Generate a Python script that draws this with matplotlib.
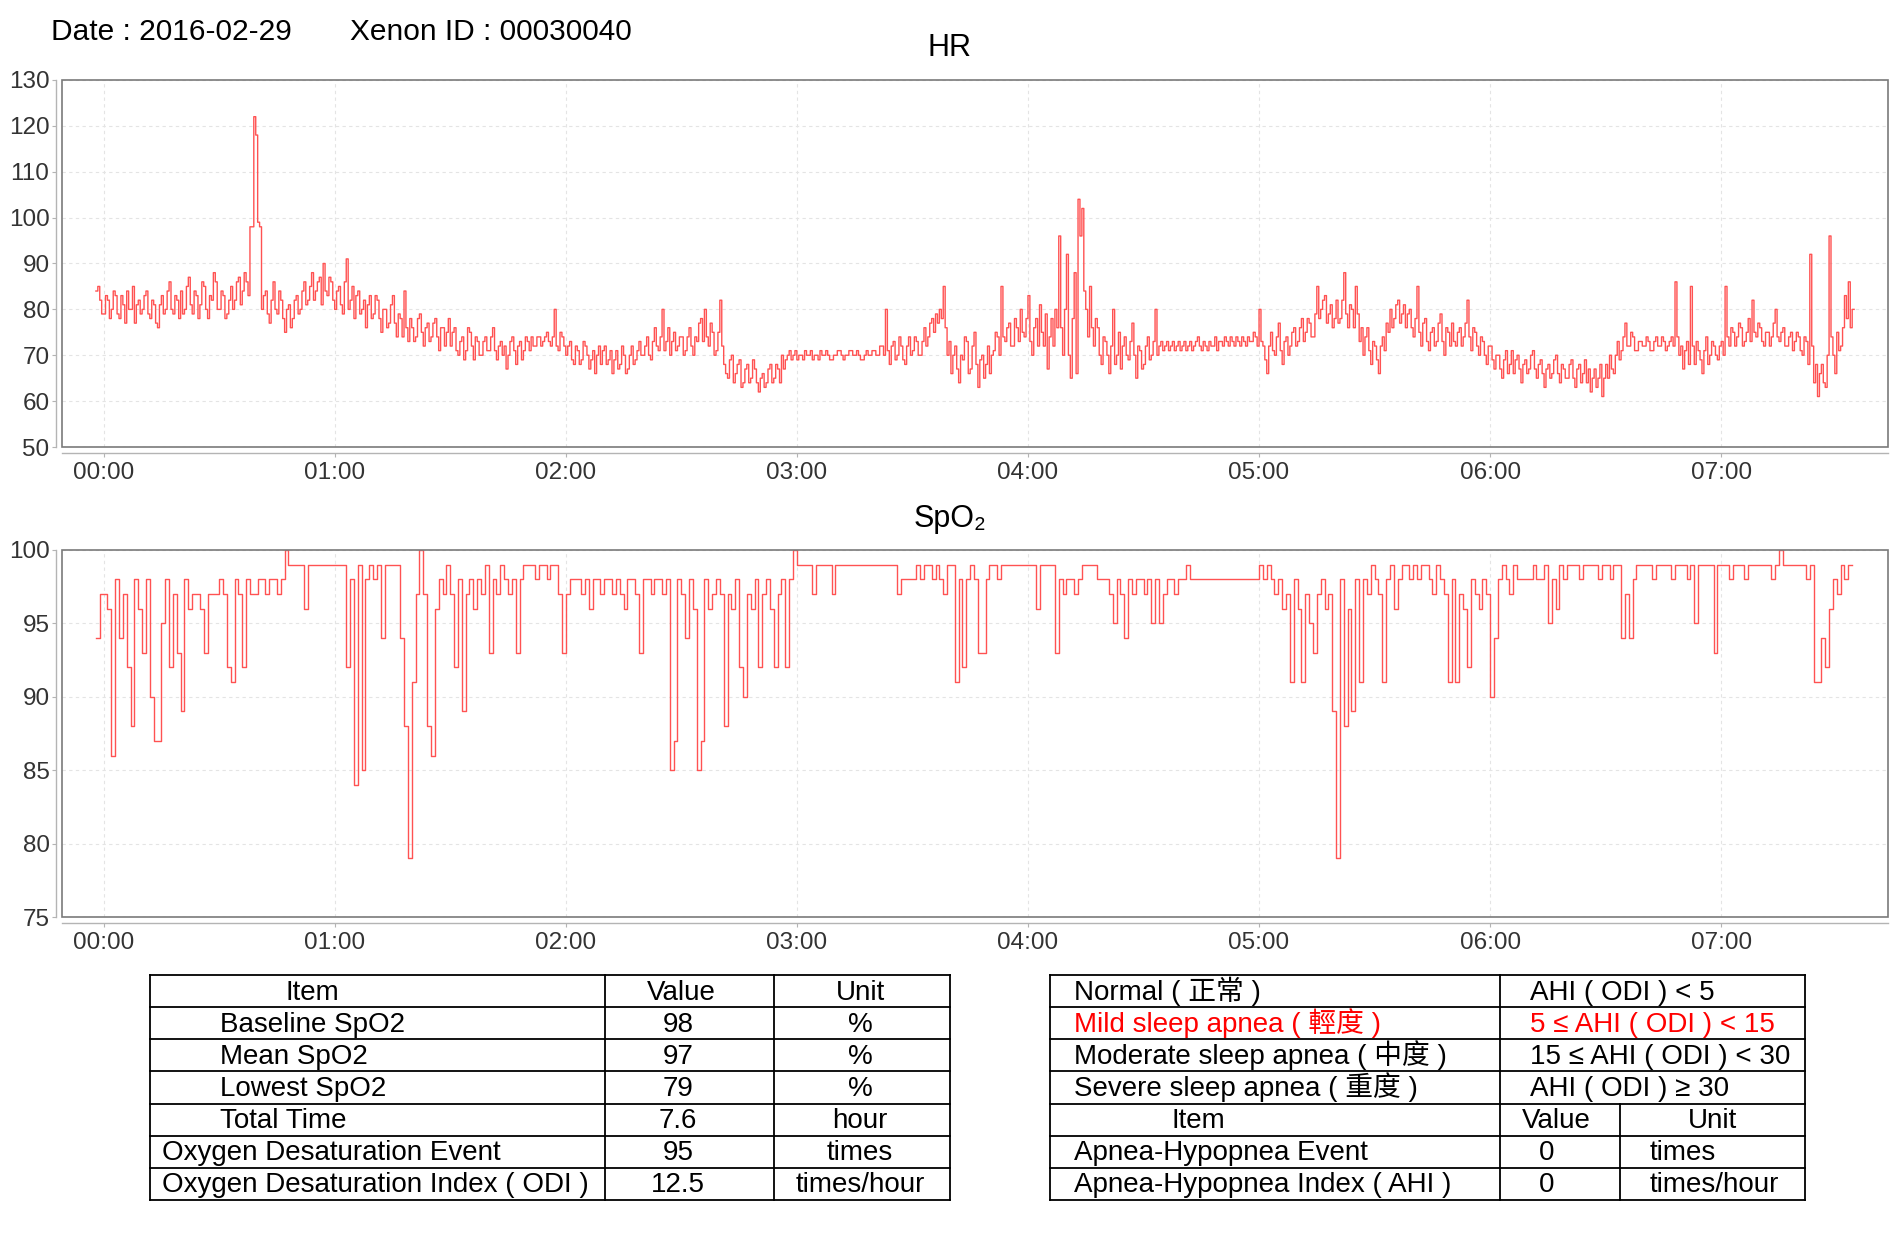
import numpy as np
import matplotlib
matplotlib.use("Agg")
import matplotlib.pyplot as plt
from matplotlib.patches import Rectangle

plt.rcParams['font.family'] = ['Liberation Sans', 'Noto Sans CJK TC', 'DejaVu Sans']

# ---- data ----
report_date = "2016-02-29"
xenon_id = "00030040"

start_minute = -2   # first sample (minutes after 00:00)

# heart rate at the start of each minute
hr = [
    84, 82,
    79, 82, 80, 83, 78, 81, 84, 80, 77, 82,   # 00:00
    80, 84, 78, 81, 76, 83, 80, 86, 79, 82,   # 00:10
    84, 80, 87, 79, 83, 81, 85, 78, 82, 86,   # 00:20
    80, 83, 79, 85, 82, 87, 84, 86, 98, 122,  # 00:30
    99, 80, 84, 77, 86, 79, 82, 75, 81, 78,   # 00:40
    83, 80, 86, 82, 88, 84, 87, 90, 83, 86,   # 00:50
    80, 85, 79, 91, 82, 78, 84, 80, 76, 83,   # 01:00
    79, 82, 75, 80, 77, 83, 74, 78, 84, 73,   # 01:10
    76, 74, 79, 72, 77, 74, 78, 71, 76, 75,   # 01:20
    72, 76, 70, 74, 71, 75, 69, 73, 70, 74,   # 01:30
    71, 76, 69, 73, 72, 70, 74, 68, 73, 71,   # 01:40
    73, 74, 72, 74, 73, 75, 72, 80, 71, 74,   # 01:50
    70, 73, 68, 71, 69, 72, 67, 71, 70, 68,   # 02:00
    72, 69, 66, 71, 68, 70, 67, 72, 69, 73,   # 02:10
    70, 74, 69, 76, 71, 80, 73, 70, 75, 72,   # 02:20
    74, 71, 76, 70, 73, 78, 80, 72, 75, 71,   # 02:30
    82, 68, 65, 70, 66, 69, 64, 68, 65, 67,   # 02:40
    62, 66, 64, 68, 65, 67, 70, 69, 71, 70,   # 02:50
    69, 70, 71, 70, 69, 70, 71, 70, 70, 69,   # 03:00
    70, 71, 69, 70, 71, 70, 70, 69, 71, 70,   # 03:10
    71, 70, 72, 80, 68, 73, 70, 72, 68, 74,   # 03:20
    71, 73, 70, 76, 74, 78, 79, 80, 85, 70,   # 03:30
    66, 72, 64, 69, 73, 67, 75, 63, 70, 68,   # 03:40
    66, 71, 74, 85, 73, 77, 72, 76, 80, 74,   # 03:50
    83, 70, 78, 81, 72, 67, 78, 80, 96, 70,   # 04:00
    92, 65, 88, 104, 102, 80, 85, 72, 76, 68, # 04:10
    73, 66, 80, 70, 67, 74, 69, 77, 65, 71,   # 04:20
    68, 74, 70, 80, 72, 71, 73, 72, 71, 73,   # 04:30
    72, 71, 73, 72, 74, 71, 72, 73, 72, 71,   # 04:40
    73, 74, 72, 73, 74, 72, 73, 74, 73, 74,   # 04:50
    80, 72, 66, 75, 70, 77, 68, 74, 72, 76,   # 05:00
    73, 78, 75, 77, 74, 85, 80, 83, 79, 76,   # 05:10
    82, 78, 88, 76, 80, 85, 73, 70, 76, 68,   # 05:20
    72, 66, 74, 77, 80, 78, 82, 79, 76, 80,   # 05:30
    74, 85, 72, 78, 71, 76, 73, 79, 70, 75,   # 05:40
    77, 72, 76, 74, 82, 71, 75, 70, 73, 68,   # 05:50
    72, 67, 70, 65, 71, 68, 66, 70, 64, 69,   # 06:00
    67, 71, 65, 69, 63, 68, 66, 70, 64, 67,   # 06:10
    65, 69, 63, 68, 66, 64, 62, 67, 65, 61,   # 06:20
    68, 70, 66, 73, 71, 77, 72, 74, 71, 73,   # 06:30
    72, 73, 71, 74, 72, 73, 72, 74, 86, 70,   # 06:40
    67, 73, 85, 68, 71, 66, 74, 70, 72, 69,   # 06:50
    73, 85, 72, 75, 74, 76, 73, 78, 82, 74,   # 07:00
    76, 72, 75, 74, 80, 73, 76, 72, 75, 73,   # 07:10
    74, 70, 73, 92, 64, 61, 68, 63, 96, 70,   # 07:20
    75, 72, 83, 86, 80,                       # 07:30
]

# heart rate 30 s into each minute
hr_half = [
    85, 79,
    83, 78, 84, 79, 83, 77, 80, 85, 81, 79,   # 00:00
    83, 79, 82, 77, 81, 79, 84, 80, 83, 78,   # 00:10
    79, 85, 81, 84, 78, 86, 80, 83, 88, 80,   # 00:20
    84, 78, 82, 80, 86, 81, 88, 83, 98, 118,  # 00:30
    98, 83, 79, 82, 80, 84, 78, 80, 76, 82,   # 00:40
    79, 84, 81, 85, 82, 86, 81, 84, 87, 82,   # 00:50
    84, 81, 86, 80, 85, 83, 79, 82, 81, 78,   # 01:00
    83, 78, 80, 76, 81, 77, 79, 74, 76, 78,   # 01:10
    73, 78, 75, 76, 73, 77, 74, 76, 72, 78,   # 01:20
    75, 71, 73, 69, 76, 72, 74, 70, 73, 71,   # 01:30
    74, 71, 72, 70, 67, 73, 71, 72, 69, 74,   # 01:40
    71, 72, 74, 72, 74, 73, 74, 72, 75, 72,   # 01:50
    72, 69, 72, 68, 73, 70, 69, 66, 72, 71,   # 02:00
    68, 71, 69, 67, 72, 66, 70, 68, 71, 70,   # 02:10
    72, 70, 73, 72, 74, 71, 76, 73, 71, 74,   # 02:20
    70, 74, 72, 74, 77, 73, 74, 77, 70, 75,   # 02:30
    72, 66, 69, 64, 68, 63, 67, 64, 69, 64,   # 02:40
    65, 63, 67, 64, 68, 64, 67, 70, 69, 71,   # 02:50
    70, 69, 70, 71, 70, 69, 70, 71, 69, 70,   # 03:00
    71, 70, 70, 71, 70, 71, 69, 70, 70, 71,   # 03:10
    70, 72, 70, 71, 72, 69, 74, 69, 72, 70,   # 03:20
    74, 70, 73, 72, 77, 75, 77, 78, 76, 73,   # 03:30
    70, 67, 70, 74, 66, 72, 68, 69, 65, 72,   # 03:40
    70, 75, 70, 74, 76, 72, 78, 73, 75, 78,   # 03:50
    73, 76, 72, 75, 79, 74, 72, 76, 76, 80,   # 04:00
    70, 78, 66, 96, 84, 74, 76, 78, 70, 74,   # 04:10
    70, 72, 68, 75, 72, 70, 73, 70, 72, 67,   # 04:20
    72, 69, 73, 70, 73, 72, 71, 73, 72, 71,   # 04:30
    73, 72, 71, 73, 72, 73, 71, 72, 74, 73,   # 04:40
    72, 73, 74, 72, 73, 74, 72, 73, 75, 72,   # 04:50
    73, 69, 72, 71, 74, 71, 73, 70, 75, 72,   # 05:00
    76, 73, 78, 74, 79, 78, 82, 77, 81, 78,   # 05:10
    77, 82, 79, 81, 76, 79, 76, 74, 71, 73,   # 05:20
    69, 72, 71, 75, 76, 81, 77, 81, 79, 76,   # 05:30
    78, 75, 77, 73, 75, 72, 77, 73, 76, 72,   # 05:40
    73, 75, 72, 77, 74, 76, 72, 74, 70, 72,   # 05:50
    69, 70, 67, 69, 66, 71, 69, 67, 68, 66,   # 06:00
    70, 67, 68, 66, 67, 65, 69, 66, 68, 65,   # 06:10
    68, 65, 67, 64, 69, 67, 65, 63, 68, 65,   # 06:20
    65, 67, 70, 69, 74, 72, 75, 71, 73, 72,   # 06:30
    74, 71, 73, 72, 74, 71, 73, 72, 74, 72,   # 06:40
    71, 68, 72, 73, 69, 71, 68, 73, 70, 72,   # 06:50
    70, 74, 76, 72, 77, 72, 75, 73, 75, 77,   # 07:00
    73, 75, 72, 77, 74, 75, 72, 74, 71, 75,   # 07:10
    71, 74, 68, 72, 68, 66, 64, 70, 74, 66,   # 07:20
    71, 76, 78, 76, 80,                       # 07:30
]

# SpO2, one sample per minute
spo2 = [
    94, 97,
    97, 96, 86, 98, 94, 97, 92, 88, 98, 96,   # 00:00
    93, 98, 90, 87, 87, 95, 98, 92, 97, 93,   # 00:10
    89, 98, 96, 97, 97, 96, 93, 97, 97, 97,   # 00:20
    98, 97, 92, 91, 98, 97, 92, 98, 97, 97,   # 00:30
    98, 98, 97, 98, 98, 97, 98, 100, 99, 99,  # 00:40
    99, 99, 96, 99, 99, 99, 99, 99, 99, 99,   # 00:50
    99, 99, 99, 92, 98, 84, 99, 85, 98, 99,   # 01:00
    98, 99, 94, 99, 99, 99, 99, 94, 88, 79,   # 01:10
    91, 97, 100, 97, 88, 86, 96, 98, 97, 99,  # 01:20
    97, 92, 98, 89, 97, 98, 96, 98, 97, 99,   # 01:30
    93, 98, 97, 99, 98, 97, 98, 93, 98, 99,   # 01:40
    99, 99, 98, 99, 99, 98, 99, 99, 97, 93,   # 01:50
    97, 98, 98, 98, 97, 98, 96, 98, 98, 97,   # 02:00
    98, 98, 97, 98, 97, 96, 98, 98, 97, 93,   # 02:10
    98, 98, 97, 98, 98, 97, 98, 85, 87, 98,   # 02:20
    97, 94, 98, 96, 85, 87, 98, 96, 97, 98,   # 02:30
    97, 88, 97, 96, 98, 92, 90, 97, 96, 98,   # 02:40
    92, 97, 98, 96, 92, 97, 98, 92, 98, 100,  # 02:50
    99, 99, 99, 99, 97, 99, 99, 99, 99, 97,   # 03:00
    99, 99, 99, 99, 99, 99, 99, 99, 99, 99,   # 03:10
    99, 99, 99, 99, 99, 99, 97, 98, 98, 98,   # 03:20
    98, 99, 98, 99, 99, 98, 99, 98, 97, 99,   # 03:30
    99, 91, 98, 92, 98, 99, 98, 93, 93, 98,   # 03:40
    99, 99, 98, 99, 99, 99, 99, 99, 99, 99,   # 03:50
    99, 99, 96, 99, 99, 99, 99, 93, 98, 97,   # 04:00
    98, 98, 97, 98, 99, 99, 99, 99, 98, 98,   # 04:10
    98, 97, 95, 98, 97, 94, 98, 97, 98, 98,   # 04:20
    97, 98, 95, 98, 95, 97, 98, 98, 97, 98,   # 04:30
    98, 99, 98, 98, 98, 98, 98, 98, 98, 98,   # 04:40
    98, 98, 98, 98, 98, 98, 98, 98, 98, 98,   # 04:50
    99, 98, 99, 98, 97, 98, 96, 97, 91, 98,   # 05:00
    96, 91, 97, 95, 93, 97, 98, 96, 97, 89,   # 05:10
    79, 98, 88, 96, 89, 98, 91, 98, 97, 99,   # 05:20
    98, 97, 91, 98, 99, 96, 98, 99, 99, 98,   # 05:30
    99, 98, 99, 99, 98, 97, 99, 98, 97, 91,   # 05:40
    98, 91, 97, 96, 92, 98, 97, 96, 98, 97,   # 05:50
    90, 94, 98, 99, 98, 97, 99, 98, 98, 98,   # 06:00
    98, 99, 98, 98, 99, 95, 98, 96, 99, 98,   # 06:10
    99, 99, 99, 98, 99, 99, 99, 99, 98, 99,   # 06:20
    99, 98, 99, 99, 94, 97, 94, 98, 99, 99,   # 06:30
    99, 99, 98, 99, 99, 99, 99, 98, 99, 99,   # 06:40
    99, 98, 99, 95, 99, 99, 99, 99, 93, 99,   # 06:50
    99, 99, 98, 99, 99, 99, 98, 99, 99, 99,   # 07:00
    99, 99, 99, 98, 99, 100, 99, 99, 99, 99,  # 07:10
    99, 99, 98, 99, 91, 91, 94, 92, 96, 98,   # 07:20
    97, 99, 98, 99, 99,                       # 07:30
]

hour_labels = ["00:00", "01:00", "02:00", "03:00", "04:00", "05:00", "06:00", "07:00"]
hr_ticks = [50, 60, 70, 80, 90, 100, 110, 120, 130]
spo2_ticks = [75, 80, 85, 90, 95, 100]

summary_items = ["Baseline SpO2", "Mean SpO2", "Lowest SpO2", "Total Time",
                 "Oxygen Desaturation Event", "Oxygen Desaturation Index ( ODI )"]
summary_values = ["98", "97", "79", "7.6", "95", "12.5"]
summary_units = ["%", "%", "%", "hour", "times", "times/hour"]

severity_labels = ["Normal ( 正常 )", "Mild sleep apnea ( 輕度 )",
                   "Moderate sleep apnea ( 中度 )", "Severe sleep apnea ( 重度 )"]
severity_ranges = ["AHI ( ODI ) < 5", "5 ≤ AHI ( ODI ) < 15",
                   "15 ≤ AHI ( ODI ) < 30", "AHI ( ODI ) ≥ 30"]
severity_highlight = 1   # row shown in red

ahi_items = ["Apnea-Hypopnea Event", "Apnea-Hypopnea Index ( AHI )"]
ahi_values = ["0", "0"]
ahi_units = ["times", "times/hour"]

LINE_RED = '#ff5252'
TICK_SIZE = 17.5
TABLE_SIZE = 20

W, H = 1900, 1250
fig = plt.figure(figsize=(W / 100, H / 100), dpi=100)


def px_rect(x0, y0, x1, y1):
    return [x0 / W, 1 - y1 / H, (x1 - x0) / W, (y1 - y0) / H]


def style_axes(ax, ylim, yticks):
    ax.set_xlim(-10.8, 463.3)
    ax.set_ylim(*ylim)
    ax.set_yticks(yticks)
    ax.set_xticks(np.arange(len(hour_labels)) * 60)
    ax.set_xticklabels(hour_labels)
    ax.grid(True, color='#e4e4e4', linestyle=(0, (3, 3)), linewidth=0.8)
    ax.set_axisbelow(True)
    for s in ['top', 'right']:
        ax.spines[s].set_visible(False)
    for s in ['left', 'bottom']:
        ax.spines[s].set_position(('outward', 4))
        ax.spines[s].set_color('#b4b4b4')
        ax.spines[s].set_linewidth(1.0)
    ax.add_patch(Rectangle((0, 0), 1, 1, transform=ax.transAxes, fill=False,
                           edgecolor='#7a7a7a', linewidth=1.2, clip_on=False, zorder=5))
    ax.tick_params(colors='#b4b4b4', labelcolor='#333333', labelsize=TICK_SIZE,
                   length=3, pad=2)
    ax.tick_params(axis='x', pad=4)


# interleave the two HR readings of each minute into a 30 s series
hr_series = np.column_stack([hr, hr_half]).ravel()
t_hr = start_minute + 0.5 * np.arange(len(hr_series))
t_sp = start_minute + np.arange(len(spo2))

ax1 = fig.add_axes(px_rect(62, 80, 1888, 447))
ax1.plot(t_hr, hr_series, drawstyle='steps-post', color=LINE_RED, linewidth=1.0)
style_axes(ax1, (50, 130), hr_ticks)

ax2 = fig.add_axes(px_rect(62, 550, 1888, 917))
ax2.plot(t_sp, spo2, drawstyle='steps-post', color=LINE_RED, linewidth=1.0)
style_axes(ax2, (75, 100), spo2_ticks)

# overlay in pixel coordinates for header, titles and tables
ov = fig.add_axes([0, 0, 1, 1])
ov.set_xlim(0, W)
ov.set_ylim(H, 0)
ov.axis('off')

ov.text(51, 40, f"Date : {report_date}", fontsize=21.5, va='baseline')
ov.text(350, 40, f"Xenon ID : {xenon_id}", fontsize=21.5, va='baseline')
ov.text(950, 56, "HR", fontsize=22, ha='center', va='baseline')
ov.text(950, 527, "SpO₂", fontsize=22, ha='center', va='baseline')


def line(x0, y0, x1, y1):
    ov.plot([x0, x1], [y0, y1], color='black', linewidth=1.3, solid_capstyle='projecting')


row_top, row_h, n_rows = 975, 32.14, 7
row_y = [row_top + row_h * i for i in range(n_rows + 1)]
base = [y + row_h / 2 + 8.5 for y in row_y[:-1]]

# left table
lx = [150, 605, 774, 950]
for y in row_y:
    line(lx[0], y, lx[-1], y)
for x in lx:
    line(x, row_y[0], x, row_y[-1])

ov.text(285, base[0], "Item", fontsize=TABLE_SIZE, va='baseline')
ov.text(681, base[0], "Value", fontsize=TABLE_SIZE, va='baseline', ha='center')
ov.text(860, base[0], "Unit", fontsize=TABLE_SIZE, va='baseline', ha='center')
for i, (it, v, u) in enumerate(zip(summary_items, summary_values, summary_units)):
    x_item = 220 if i < 4 else 162
    ov.text(x_item, base[i + 1], it, fontsize=TABLE_SIZE, va='baseline')
    ov.text(678, base[i + 1], v, fontsize=TABLE_SIZE, va='baseline', ha='center')
    ov.text(860, base[i + 1], u, fontsize=TABLE_SIZE, va='baseline', ha='center')

# right table
rx0, rx1, rx2, rx3 = 1050, 1500, 1620, 1805
for y in row_y:
    line(rx0, y, rx3, y)
for x in (rx0, rx1, rx3):
    line(x, row_y[0], x, row_y[-1])
line(rx2, row_y[4], rx2, row_y[-1])

for i, (lab, rng) in enumerate(zip(severity_labels, severity_ranges)):
    c = '#ff0000' if i == severity_highlight else 'black'
    ov.text(1074, base[i], lab, fontsize=TABLE_SIZE, va='baseline', color=c)
    ov.text(1530, base[i], rng, fontsize=TABLE_SIZE, va='baseline', color=c)

ov.text(1171, base[4], "Item", fontsize=TABLE_SIZE, va='baseline')
ov.text(1556, base[4], "Value", fontsize=TABLE_SIZE, va='baseline', ha='center')
ov.text(1713, base[4], "Unit", fontsize=TABLE_SIZE, va='baseline', ha='center')
for i, (it, v, u) in enumerate(zip(ahi_items, ahi_values, ahi_units)):
    ov.text(1074, base[5 + i], it, fontsize=TABLE_SIZE, va='baseline')
    ov.text(1547, base[5 + i], v, fontsize=TABLE_SIZE, va='baseline', ha='center')
    ov.text(1650, base[5 + i], u, fontsize=TABLE_SIZE, va='baseline')

fig.savefig("out.png", dpi=100)
